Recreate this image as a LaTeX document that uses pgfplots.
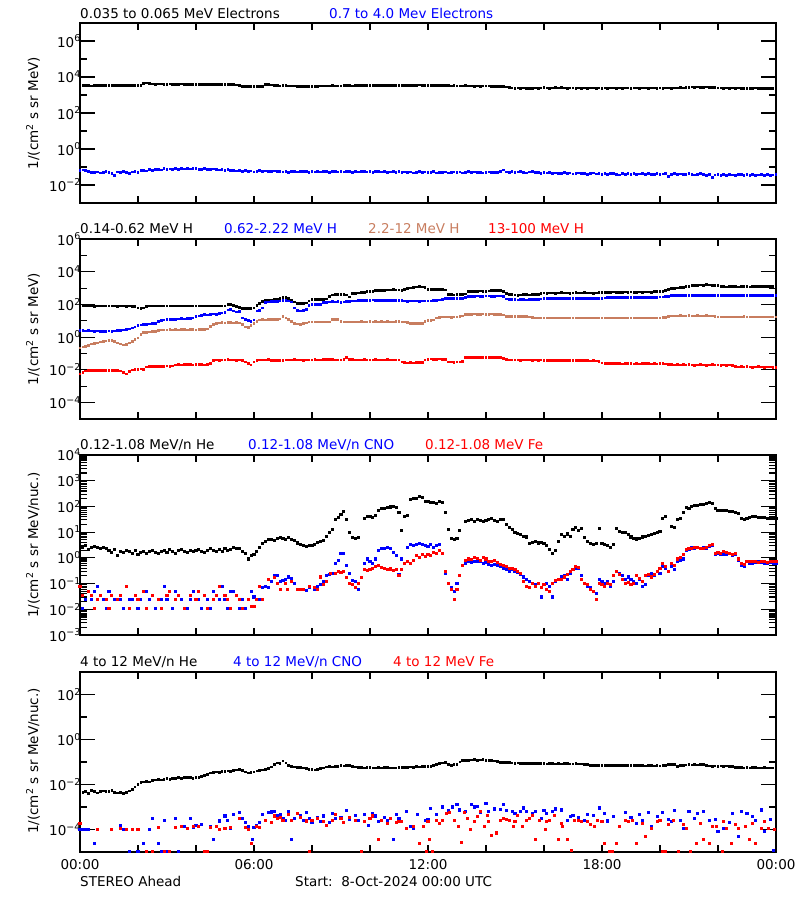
\documentclass[border=0pt]{standalone}
\usepackage{pgfplots}
\pgfplotsset{compat=1.18}
\usepackage{pgfplotstable}
\usepackage{fontspec}
\setmainfont{DejaVu Sans}
\definecolor{ibrown}{RGB}{200,125,95}
\newcommand\E[1]{10\textsuperscript{#1}}

\pgfplotstableread{
t a b
0.0 3300 0.065
0.1 3250 0.068
0.2 3350 0.062
0.3 3300 0.058
0.4 3200 0.050
0.5 3300 0.048
0.6 3350 0.052
0.7 3300 0.046
0.8 3250 0.050
0.9 3300 0.055
1.0 3400 0.048
1.1 3300 0.044
1.2 3250 0.034
1.3 3300 0.052
1.4 3350 0.048
1.5 3400 0.055
1.6 3300 0.050
1.7 3350 0.045
1.8 3300 0.052
1.9 3400 0.058
2.0 3350 0.050
2.1 3500 0.062
2.2 4500 0.066
2.3 4700 0.060
2.4 4400 0.070
2.5 4100 0.065
2.6 4000 0.072
2.7 4100 0.075
2.8 4050 0.068
2.9 3950 0.080
3.0 4000 0.074
3.1 4100 0.078
3.2 4000 0.072
3.3 3950 0.082
3.4 4000 0.076
3.5 4050 0.080
3.6 3950 0.078
3.7 3900 0.085
3.8 4000 0.078
3.9 3950 0.082
4.0 3900 0.080
4.1 3850 0.076
4.2 3900 0.072
4.3 3950 0.080
4.4 3900 0.075
4.5 3850 0.070
4.6 3800 0.078
4.7 3850 0.074
4.8 3900 0.068
4.9 3800 0.072
5.0 3750 0.065
5.1 3800 0.070
5.2 3850 0.062
5.3 3700 0.066
5.4 3650 0.060
5.5 3500 0.064
5.6 3000 0.058
5.7 2900 0.062
5.8 2950 0.055
5.9 2900 0.060
6.0 2850 0.052
6.1 2900 0.058
6.2 3000 0.062
6.3 3100 0.056
6.4 3700 0.060
6.5 3800 0.058
6.6 3600 0.054
6.7 3300 0.060
6.8 3250 0.055
6.9 3200 0.058
7.0 3250 0.052
7.1 3300 0.056
7.2 3200 0.050
7.3 3150 0.055
7.4 3200 0.058
7.5 3100 0.052
7.6 3050 0.056
7.7 3000 0.054
7.8 3050 0.058
7.9 3000 0.050
8.0 3100 0.055
8.1 3050 0.052
8.2 3100 0.056
8.3 3150 0.053
8.4 3200 0.058
8.5 3150 0.055
8.6 3200 0.050
8.7 3250 0.054
8.8 3200 0.057
8.9 3150 0.052
9.0 3200 0.056
9.1 3250 0.053
9.2 3300 0.058
9.3 3250 0.054
9.4 3200 0.050
9.5 3250 0.056
9.6 3300 0.052
9.7 3250 0.055
9.8 3300 0.058
9.9 3250 0.052
10.0 3300 0.055
10.1 3350 0.050
10.2 3300 0.054
10.3 3250 0.057
10.4 3300 0.052
10.5 3350 0.055
10.6 3300 0.050
10.7 3350 0.053
10.8 3300 0.056
10.9 3350 0.051
11.0 3300 0.054
11.1 3400 0.050
11.2 3450 0.053
11.3 3500 0.048
11.4 3400 0.052
11.5 3450 0.047
11.6 3500 0.051
11.7 3550 0.055
11.8 3500 0.049
11.9 3450 0.052
12.0 3500 0.048
12.1 3450 0.050
12.2 3500 0.054
12.3 3400 0.047
12.4 3350 0.050
12.5 3300 0.048
12.6 3250 0.052
12.7 3300 0.046
12.8 3200 0.050
12.9 3250 0.053
13.0 3200 0.049
13.1 3150 0.052
13.2 3200 0.047
13.3 3250 0.050
13.4 3200 0.055
13.5 3150 0.049
13.6 3100 0.052
13.7 3150 0.048
13.8 3100 0.051
13.9 3150 0.046
14.0 3200 0.050
14.1 3150 0.053
14.2 3100 0.048
14.3 3050 0.051
14.4 3100 0.049
14.5 3050 0.055
14.6 3000 0.068
14.7 2800 0.052
14.8 2500 0.049
14.9 2450 0.055
15.0 2400 0.050
15.1 2450 0.053
15.2 2400 0.058
15.3 2450 0.050
15.4 2400 0.047
15.5 2350 0.052
15.6 2400 0.055
15.7 2450 0.048
15.8 2400 0.051
15.9 2450 0.045
16.0 2500 0.049
16.1 2450 0.046
16.2 2400 0.050
16.3 2450 0.044
16.4 2500 0.047
16.5 2450 0.042
16.6 2500 0.045
16.7 2450 0.048
16.8 2400 0.043
16.9 2450 0.046
17.0 2450 0.041
17.1 2400 0.044
17.2 2450 0.047
17.3 2400 0.042
17.4 2450 0.045
17.5 2400 0.040
17.6 2450 0.043
17.7 2450 0.046
17.8 2400 0.041
17.9 2450 0.044
18.0 2400 0.040
18.1 2450 0.043
18.2 2400 0.038
18.3 2450 0.042
18.4 2450 0.045
18.5 2400 0.040
18.6 2450 0.036
18.7 2400 0.042
18.8 2450 0.039
18.9 2450 0.043
19.0 2400 0.040
19.1 2450 0.044
19.2 2450 0.038
19.3 2400 0.041
19.4 2450 0.045
19.5 2450 0.039
19.6 2400 0.042
19.7 2450 0.037
19.8 2450 0.040
19.9 2400 0.043
20.0 2450 0.038
20.1 2400 0.041
20.2 2450 0.044
20.3 2450 0.030
20.4 2400 0.039
20.5 2450 0.042
20.6 2450 0.038
20.7 2500 0.041
20.8 2450 0.037
20.9 2550 0.040
21.0 2700 0.043
21.1 2750 0.039
21.2 2700 0.036
21.3 2750 0.040
21.4 2700 0.042
21.5 2700 0.038
21.6 2750 0.035
21.7 2700 0.039
21.8 2650 0.027
21.9 2500 0.036
22.0 2450 0.040
22.1 2450 0.034
22.2 2400 0.038
22.3 2450 0.035
22.4 2400 0.039
22.5 2450 0.036
22.6 2400 0.033
22.7 2450 0.037
22.8 2400 0.040
22.9 2350 0.035
23.0 2300 0.038
23.1 2350 0.034
23.2 2400 0.037
23.3 2450 0.033
23.4 2400 0.036
23.5 2350 0.039
23.6 2400 0.034
23.7 2350 0.037
23.8 2300 0.033
23.9 2300 0.036
24.0 2250 0.037
}\tone

\pgfplotstableread{
t a b c d
0.0 88 2.6 0.22 0.0057
0.1 85 2.5 0.25 0.0070
0.2 80 2.4 0.28 0.0085
0.3 82 2.5 0.32 0.0092
0.4 80 2.4 0.38 0.0090
0.5 78 2.3 0.42 0.0095
0.6 80 2.4 0.45 0.0088
0.7 82 2.3 0.50 0.0093
0.8 79 2.2 0.55 0.0090
0.9 80 2.3 0.58 0.0095
1.0 81 2.4 0.60 0.0092
1.1 80 2.3 0.60 0.0088
1.2 79 2.4 0.55 0.0093
1.3 78 2.5 0.45 0.0090
1.4 80 2.6 0.38 0.0085
1.5 79 2.7 0.33 0.0070
1.6 78 2.9 0.35 0.0057
1.7 80 3.2 0.45 0.0080
1.8 77 3.6 0.55 0.0100
1.9 75 4.2 0.70 0.0110
2.0 62 5.0 0.90 0.0110
2.1 57 5.5 1.4 0.0115
2.2 60 6.0 1.9 0.0110
2.3 78 6.2 2.0 0.0150
2.4 80 6.5 2.1 0.0160
2.5 79 6.8 2.3 0.0155
2.6 81 7.2 2.3 0.0160
2.7 80 9.0 2.5 0.0165
2.8 79 10 2.7 0.0160
2.9 80 11 2.8 0.0165
3.0 82 11.5 2.8 0.0170
3.1 80 12 2.9 0.0165
3.2 79 11.8 2.8 0.0170
3.3 80 12.5 2.9 0.020
3.4 81 13 2.8 0.021
3.5 80 13.5 2.9 0.020
3.6 79 13 2.9 0.021
3.7 80 14 2.8 0.022
3.8 81 14.5 2.9 0.021
3.9 80 15 2.9 0.020
4.0 79 18 2.8 0.021
4.1 80 20 2.9 0.022
4.2 81 22 2.9 0.021
4.3 80 24 2.9 0.020
4.4 79 23 3.2 0.022
4.5 80 25 4.5 0.024
4.6 81 26 6.0 0.038
4.7 80 24 7.0 0.040
4.8 79 28 7.5 0.039
4.9 80 30 7.6 0.041
5.0 82 32 7.4 0.040
5.1 95 45 7.6 0.042
5.2 100 50 7.8 0.040
5.3 90 40 7.5 0.041
5.4 75 35 7.6 0.039
5.5 65 38 7.4 0.040
5.6 57 15 6.0 0.038
5.7 55 12 4.2 0.030
5.8 58 10 4.0 0.025
5.9 56 9.5 5.0 0.020
6.0 60 11 7.0 0.030
6.1 90 40 9.0 0.036
6.2 120 42 11 0.040
6.3 150 60 11.5 0.041
6.4 170 130 11 0.040
6.5 175 140 11.5 0.042
6.6 180 150 12 0.038
6.7 200 150 11.5 0.036
6.8 220 155 12 0.037
6.9 240 160 13 0.036
7.0 260 170 19 0.038
7.1 260 175 15 0.040
7.2 240 165 12 0.041
7.3 180 140 9.0 0.040
7.4 140 60 7.0 0.042
7.5 120 42 6.5 0.041
7.6 115 40 6.2 0.040
7.7 118 42 6.8 0.039
7.8 125 50 7.5 0.040
7.9 160 90 8.5 0.041
8.0 200 95 8.5 0.040
8.1 205 100 8.3 0.042
8.2 200 95 8.6 0.041
8.3 210 100 8.5 0.040
8.4 200 130 8.4 0.043
8.5 220 135 8.6 0.045
8.6 300 140 8.5 0.045
8.7 380 145 12 0.042
8.8 420 140 12.5 0.041
8.9 410 145 12 0.040
9.0 400 130 9.0 0.041
9.1 390 140 8.5 0.042
9.2 380 150 8.6 0.060
9.3 280 150 8.5 0.045
9.4 450 160 8.4 0.042
9.5 480 165 8.6 0.041
9.6 500 170 8.5 0.040
9.7 530 175 8.7 0.041
9.8 560 180 8.6 0.042
9.9 600 175 8.5 0.041
10.0 620 180 8.8 0.040
10.1 650 185 8.6 0.041
10.2 680 180 8.7 0.042
10.3 700 178 8.5 0.041
10.4 720 180 8.8 0.040
10.5 740 182 8.6 0.041
10.6 760 180 8.7 0.042
10.7 780 178 8.5 0.040
10.8 790 180 8.6 0.041
10.9 780 175 8.8 0.040
11.0 760 170 8.7 0.040
11.1 740 168 8.6 0.030
11.2 800 160 8.5 0.028
11.3 900 158 8.0 0.027
11.4 1000 160 7.2 0.028
11.5 1100 162 7.0 0.027
11.6 1150 160 7.1 0.028
11.7 1200 158 6.9 0.029
11.8 1180 160 7.2 0.028
11.9 1100 162 9.5 0.040
12.0 850 160 10 0.045
12.1 820 165 10 0.046
12.2 800 170 11 0.045
12.3 810 180 15 0.044
12.4 790 190 16 0.046
12.5 800 210 17 0.045
12.6 760 230 17 0.044
12.7 420 235 17 0.031
12.8 390 240 16.5 0.030
12.9 380 238 17 0.029
13.0 400 235 17 0.031
13.1 420 240 17.5 0.030
13.2 410 242 20 0.032
13.3 430 260 24 0.055
13.4 600 300 25 0.058
13.5 620 310 25 0.060
13.6 650 320 26 0.058
13.7 640 330 25 0.057
13.8 660 320 25 0.059
13.9 620 315 26 0.060
14.0 650 325 25 0.058
14.1 670 330 25 0.057
14.2 680 320 26 0.059
14.3 700 318 25 0.058
14.4 690 325 25 0.057
14.5 720 330 24 0.056
14.6 650 320 23 0.052
14.7 450 220 19 0.042
14.8 420 210 18 0.041
14.9 400 200 18 0.040
15.0 380 195 18 0.041
15.1 370 190 18 0.040
15.2 380 195 17.5 0.039
15.3 400 200 18 0.040
15.4 390 190 17.5 0.041
15.5 380 195 17 0.040
15.6 400 200 16 0.039
15.7 420 210 15 0.040
15.8 410 205 15 0.039
15.9 480 220 15 0.040
16.0 500 225 15 0.039
16.1 490 230 14.8 0.038
16.2 510 235 15 0.039
16.3 500 230 15 0.038
16.4 480 225 14.8 0.039
16.5 500 230 15 0.038
16.6 520 235 15 0.037
16.7 510 230 14.8 0.038
16.8 500 232 15 0.037
16.9 490 228 15 0.038
17.0 500 230 14.8 0.037
17.1 520 235 15 0.036
17.2 510 230 15 0.037
17.3 500 228 14.8 0.036
17.4 530 232 15 0.037
17.5 510 230 15 0.036
17.6 500 228 14.8 0.035
17.7 490 225 15 0.036
17.8 510 230 15 0.035
17.9 520 232 15 0.034
18.0 540 240 14.8 0.026
18.1 550 250 15 0.025
18.2 560 255 15 0.024
18.3 550 260 14.8 0.025
18.4 570 258 15 0.024
18.5 560 255 15 0.025
18.6 550 260 14.8 0.024
18.7 560 262 15 0.023
18.8 580 258 15 0.024
18.9 560 260 14.8 0.025
19.0 570 255 15 0.024
19.1 560 258 15 0.023
19.2 550 260 14.8 0.024
19.3 570 262 15 0.023
19.4 560 258 15 0.024
19.5 580 255 14.8 0.025
19.6 570 260 15 0.024
19.7 560 262 15 0.023
19.8 590 265 15 0.024
19.9 600 270 15 0.023
20.0 620 280 15 0.024
20.1 650 290 15.5 0.024
20.2 700 300 16 0.023
20.3 800 320 18 0.022
20.4 900 340 20 0.021
20.5 950 350 20 0.020
20.6 1000 355 20 0.021
20.7 1050 350 21 0.020
20.8 1100 360 20 0.021
20.9 1200 355 20 0.020
21.0 1300 350 21 0.021
21.1 1400 360 20 0.020
21.2 1450 355 20 0.019
21.3 1500 350 21 0.020
21.4 1550 345 20 0.021
21.5 1500 350 20 0.020
21.6 1600 355 21 0.019
21.7 1550 350 20 0.020
21.8 1500 340 20 0.021
21.9 1450 345 19 0.020
22.0 1400 350 17 0.020
22.1 1250 345 17 0.019
22.2 1200 340 17 0.020
22.3 1150 345 17 0.019
22.4 1200 350 17 0.020
22.5 1250 355 17 0.019
22.6 1200 350 17 0.016
22.7 1180 345 17 0.015
22.8 1200 350 17 0.016
22.9 1250 355 18 0.015
23.0 1200 350 17 0.016
23.1 1150 345 17 0.015
23.2 1200 350 17 0.014
23.3 1250 355 17 0.015
23.4 1300 350 17 0.016
23.5 1250 345 17 0.015
23.6 1200 350 17 0.014
23.7 1230 348 17 0.015
23.8 1250 350 17 0.015
23.9 1220 352 17 0.014
24.0 1200 350 17 0.014
}\ttwo

\pgfplotstableread{
t a
0.0 nan
0.1 2.6
0.2 3.0
0.3 2.2
0.4 2.5
0.5 2.8
0.6 2.6
0.7 2.4
0.8 2.5
0.9 2.3
1.0 2.0
1.1 1.6
1.2 2.2
1.3 1.2
1.4 1.8
1.5 1.6
1.6 2.0
1.7 1.7
1.8 1.5
1.9 1.9
2.0 1.4
2.1 1.6
2.2 1.8
2.3 1.5
2.4 1.7
2.5 2.0
2.6 1.6
2.7 1.5
2.8 1.8
2.9 1.9
3.0 1.6
3.1 2.1
3.2 1.7
3.3 1.5
3.4 1.9
3.5 2.2
3.6 1.8
3.7 1.6
3.8 2.0
3.9 1.7
4.0 1.9
4.1 2.1
4.2 1.8
4.3 1.6
4.4 2.0
4.5 2.3
4.6 1.9
4.7 1.7
4.8 2.1
4.9 1.8
5.0 2.4
5.1 2.0
5.2 2.2
5.3 2.6
5.4 2.3
5.5 2.4
5.6 1.8
5.7 1.5
5.8 0.9
5.9 1.2
6.0 1.4
6.1 1.8
6.2 2.6
6.3 3.5
6.4 4.5
6.5 5.0
6.6 5.2
6.7 4.8
6.8 5.5
6.9 6.0
7.0 5.8
7.1 5.0
7.2 6.2
7.3 5.2
7.4 4.7
7.5 3.8
7.6 3.2
7.7 3.0
7.8 2.8
7.9 3.1
8.0 3.0
8.1 3.3
8.2 4.0
8.3 4.5
8.4 4.6
8.5 7.0
8.6 10
8.7 13
8.8 30
8.9 38
9.0 50
9.1 65
9.2 30
9.3 10
9.4 6.0
9.5 5.5
9.6 6.2
9.7 nan
9.8 35
9.9 40
10.0 42
10.1 38
10.2 45
10.3 70
10.4 80
10.5 85
10.6 90
10.7 95
10.8 100
10.9 90
11.0 60
11.1 12
11.2 40
11.3 45
11.4 190
11.5 200
11.6 210
11.7 240
11.8 220
11.9 160
12.0 150
12.1 145
12.2 140
12.3 130
12.4 150
12.5 140
12.6 60
12.7 13
12.8 5.5
12.9 5.0
13.0 5.5
13.1 12
13.2 nan
13.3 26
13.4 28
13.5 30
13.6 27
13.7 31
13.8 29
13.9 25
14.0 28
14.1 30
14.2 33
14.3 28
14.4 26
14.5 30
14.6 31
14.7 20
14.8 15
14.9 13
15.0 10
15.1 9.0
15.2 8.0
15.3 7.0
15.4 6.5
15.5 3.5
15.6 4.0
15.7 4.2
15.8 3.8
15.9 4.0
16.0 3.5
16.1 3.0
16.2 2.2
16.3 1.5
16.4 2.0
16.5 4.5
16.6 8.0
16.7 7.0
16.8 8.5
16.9 7.0
17.0 13
17.1 15
17.2 12
17.3 14
17.4 6.0
17.5 4.5
17.6 3.5
17.7 3.2
17.8 3.6
17.9 14
18.0 3.5
18.1 3.2
18.2 3.0
18.3 2.6
18.4 3.4
18.5 14
18.6 11
18.7 10
18.8 9.5
18.9 8.0
19.0 6.5
19.1 5.5
19.2 5.4
19.3 5.8
19.4 6.5
19.5 7.0
19.6 7.5
19.7 8.0
19.8 9.0
19.9 10
20.0 11
20.1 35
20.2 42
20.3 nan
20.4 17
20.5 15
20.6 30
20.7 35
20.8 60
20.9 90
21.0 85
21.1 100
21.2 110
21.3 105
21.4 115
21.5 120
21.6 125
21.7 140
21.8 135
21.9 80
22.0 72
22.1 70
22.2 68
22.3 72
22.4 65
22.5 66
22.6 60
22.7 55
22.8 34
22.9 30
23.0 33
23.1 38
23.2 42
23.3 40
23.4 36
23.5 38
23.6 37
23.7 35
23.8 38
23.9 36
24.0 34
}\tthree

\pgfplotstableread{
t a
0.0 0.0035
0.1 0.0045
0.2 0.0050
0.3 0.0040
0.4 0.0055
0.5 0.0048
0.6 0.0042
0.7 0.0050
0.8 0.0052
0.9 0.0048
1.0 0.0050
1.1 0.0053
1.2 0.0045
1.3 0.0042
1.4 0.0043
1.5 0.0041
1.6 0.0045
1.7 0.0052
1.8 0.0062
1.9 0.0078
2.0 0.0100
2.1 0.0120
2.2 0.0130
2.3 0.0140
2.4 0.0130
2.5 0.0150
2.6 0.0160
2.7 0.0170
2.8 0.0160
2.9 0.0170
3.0 0.0180
3.1 0.0170
3.2 0.0180
3.3 0.0190
3.4 0.0200
3.5 0.0190
3.6 0.0200
3.7 0.0210
3.8 0.0200
3.9 0.0190
4.0 0.0210
4.1 0.0200
4.2 0.0220
4.3 0.0250
4.4 0.0280
4.5 0.0320
4.6 0.0350
4.7 0.0360
4.8 0.0350
4.9 0.0370
5.0 0.0380
5.1 0.0400
5.2 0.0390
5.3 0.0420
5.4 0.0440
5.5 0.0460
5.6 0.0420
5.7 0.0360
5.8 0.0320
5.9 0.0340
6.0 0.0360
6.1 0.0400
6.2 0.0420
6.3 0.0440
6.4 0.0460
6.5 0.0500
6.6 0.0600
6.7 0.0750
6.8 0.0900
6.9 0.0850
7.0 0.1100
7.1 0.0900
7.2 0.0700
7.3 0.0650
7.4 0.0600
7.5 0.0580
7.6 0.0560
7.7 0.0550
7.8 0.0520
7.9 0.0480
8.0 0.0450
8.1 0.0440
8.2 0.0450
8.3 0.0500
8.4 0.0550
8.5 0.0600
8.6 0.0620
8.7 0.0600
8.8 0.0630
8.9 0.0650
9.0 0.0680
9.1 0.0660
9.2 0.0700
9.3 0.0720
9.4 0.0650
9.5 0.0600
9.6 0.0580
9.7 0.0560
9.8 0.0550
9.9 0.0570
10.0 0.0560
10.1 0.0550
10.2 0.0540
10.3 0.0560
10.4 0.0550
10.5 0.0570
10.6 0.0560
10.7 0.0550
10.8 0.0540
10.9 0.0550
11.0 0.0560
11.1 0.0580
11.2 0.0570
11.3 0.0590
11.4 0.0600
11.5 0.0580
11.6 0.0610
11.7 0.0600
11.8 0.0620
11.9 0.0630
12.0 0.0650
12.1 0.0640
12.2 0.0680
12.3 0.0780
12.4 0.0850
12.5 0.0900
12.6 0.0950
12.7 0.0780
12.8 0.0720
12.9 0.0750
13.0 0.0800
13.1 0.1000
13.2 0.1150
13.3 0.1200
13.4 0.1180
13.5 0.1220
13.6 0.1250
13.7 0.1200
13.8 0.1230
13.9 0.1250
14.0 0.1200
14.1 0.1180
14.2 0.1150
14.3 0.1120
14.4 0.1080
14.5 0.0980
14.6 0.0950
14.7 0.0920
14.8 0.0950
14.9 0.0900
15.0 0.0880
15.1 0.0900
15.2 0.0870
15.3 0.0890
15.4 0.0860
15.5 0.0880
15.6 0.0850
15.7 0.0860
15.8 0.0840
15.9 0.0830
16.0 0.0850
16.1 0.0820
16.2 0.0840
16.3 0.0830
16.4 0.0810
16.5 0.0830
16.6 0.0820
16.7 0.0840
16.8 0.0830
16.9 0.0810
17.0 0.0820
17.1 0.0830
17.2 0.0810
17.3 0.0820
17.4 0.0800
17.5 0.0790
17.6 0.0720
17.7 0.0710
17.8 0.0700
17.9 0.0720
18.0 0.0700
18.1 0.0690
18.2 0.0710
18.3 0.0700
18.4 0.0680
18.5 0.0700
18.6 0.0690
18.7 0.0710
18.8 0.0700
18.9 0.0680
19.0 0.0700
19.1 0.0690
19.2 0.0700
19.3 0.0680
19.4 0.0690
19.5 0.0670
19.6 0.0680
19.7 0.0690
19.8 0.0670
19.9 0.0680
20.0 0.0670
20.1 0.0680
20.2 0.0700
20.3 0.0780
20.4 0.0800
20.5 0.0760
20.6 0.0620
20.7 0.0680
20.8 0.0720
20.9 0.0740
21.0 0.0750
21.1 0.0730
21.2 0.0760
21.3 0.0740
21.4 0.0760
21.5 0.0750
21.6 0.0720
21.7 0.0660
21.8 0.0640
21.9 0.0660
22.0 0.0650
22.1 0.0670
22.2 0.0640
22.3 0.0660
22.4 0.0650
22.5 0.0630
22.6 0.0580
22.7 0.0560
22.8 0.0570
22.9 0.0550
23.0 0.0560
23.1 0.0550
23.2 0.0570
23.3 0.0560
23.4 0.0540
23.5 0.0550
23.6 0.0560
23.7 0.0540
23.8 0.0550
23.9 0.0540
24.0 0.0530
}\tfour

\pgfplotsset{
  every axis/.append style={
    width=696bp, height=180bp, scale only axis,
    anchor=north west,
    xmin=0, xmax=24,
    axis line style={line width=1.1bp},
    every tick/.append style={black, line width=1.1bp},
    major tick length=15bp, minor tick length=7bp,
    tick pos=both, tick align=inside,
    xtick={0,6,12,18,24},
    minor xtick={0,2,...,24},
    every major x tick/.append style={draw=none},
    tick label style={font=\fontsize{13.5bp}{16bp}\selectfont},
    yticklabel style={inner sep=0pt, anchor=east, xshift=1bp},
  },
  pm/.style={only marks, mark=square*, mark size=0.85bp, mark options={line width=0pt}},
  ps/.style={only marks, mark=square*, mark size=1.05bp, mark options={line width=0pt}},
}

\begin{document}
\begin{tikzpicture}[font=\fontsize{13.5bp}{16bp}\selectfont]
\useasboundingbox (0,0) rectangle (800bp,-900bp);

% ---------- panel 1 ----------
\begin{axis}[at={(80bp,-23bp)}, ymode=log, ymin=1e-3, ymax=1e7,
  xticklabels={,,,,},
  ytick={1e-2,1,1e2,1e4,1e6}, minor ytick={1e-1,10,1e3,1e5},
  yticklabels={\E{−2},\E{0},\E{2},\E{4},\E{6}}]
\addplot[black, pm] table[x=t, y=a] {\tone};
\addplot[blue, pm] table[x=t, y=b] {\tone};
\end{axis}

% ---------- panel 2 ----------
\begin{axis}[at={(80bp,-239bp)}, ymode=log, ymin=1e-5, ymax=1e6,
  xticklabels={,,,,},
  ytick={1e-4,1e-2,1,1e2,1e4,1e6}, minor ytick={1e-3,1e-1,10,1e3,1e5},
  yticklabels={\E{−4},\E{−2},\E{0},\E{2},\E{4},\E{6}}]
\addplot[black, pm] table[x=t, y=a] {\ttwo};
\addplot[blue, pm] table[x=t, y=b] {\ttwo};
\addplot[ibrown, pm] table[x=t, y=c] {\ttwo};
\addplot[red, pm] table[x=t, y=d] {\ttwo};
\end{axis}

% ---------- panel 3 ----------
\begin{axis}[at={(80bp,-455bp)}, ymode=log, ymin=1e-3, ymax=1e4,
  xticklabels={,,,,},
  ytick={1e-3,1e-2,1e-1,1,10,1e2,1e3,1e4},
  yticklabels={\E{−3},\E{−2},\E{−1},\E{0},\E{1},\E{2},\E{3},\E{4}}]
\addplot[black, ps] table[x=t, y=a] {\tthree};
\addplot[blue, ps] coordinates {
(0.1,0.011)(0.2,0.024)(0.4,0.024)(0.5,0.05)(0.6,0.08)(0.8,0.024)(0.9,0.011)(1.0,0.05)(1.2,0.024)(1.4,0.024)
(1.5,0.011)(1.7,0.024)(1.8,0.024)(2.0,0.011)(2.1,0.024)(2.3,0.05)(2.4,0.024)(2.6,0.011)(2.8,0.024)(2.9,0.08)
(3.0,0.024)(3.2,0.011)(3.3,0.05)(3.5,0.024)(3.7,0.011)(3.8,0.024)(3.9,0.05)(4.1,0.024)(4.2,0.011)(4.4,0.024)
(4.5,0.011)(4.6,0.05)(4.8,0.024)(4.9,0.08)(5.0,0.024)(5.1,0.011)(5.2,0.05)(5.3,0.05)(5.5,0.011)(5.6,0.024)
(5.7,0.011)(5.9,0.05)
(6.0,0.03)(6.1,0.025)(6.2,0.025)(6.3,0.07)(6.4,0.08)(6.5,0.07)(6.6,0.12)(6.7,0.2)(6.8,0.21)(6.9,0.12)
(7.0,0.13)(7.1,0.15)(7.2,0.18)(7.3,0.16)(7.4,0.1)(7.5,0.06)(7.6,0.06)(7.7,0.06)(7.8,0.055)(7.9,0.07)
(8.1,0.06)(8.2,0.08)(8.3,0.09)(8.4,0.12)(8.5,0.2)(8.6,0.22)(8.7,0.25)(8.8,0.6)(8.9,0.8)(9.0,1.5)
(9.1,1.5)(9.2,0.5)(9.3,0.25)(9.4,0.13)(9.5,0.12)(9.6,0.06)(9.8,0.6)(9.9,0.9)(10.0,0.7)(10.1,0.6)
(10.2,0.9)(10.3,2.0)(10.4,2.4)(10.5,2.4)(10.6,2.5)(10.7,2.4)(10.8,1.6)(10.9,1.2)(11.0,0.23)(11.1,0.9)
(11.3,2.5)(11.4,3.2)(11.5,3.0)(11.6,3.2)(11.7,3.6)(11.8,3.4)(11.9,3.0)(12.0,2.8)(12.1,3.2)(12.2,2.6)
(12.3,3.0)(12.4,3.3)(12.5,1.5)(12.6,0.25)(12.7,0.1)(12.8,0.07)(12.9,0.05)(13.0,0.1)(13.1,0.2)(13.2,0.5)
(13.3,0.6)(13.4,0.7)(13.5,0.65)(13.6,0.7)(13.7,0.75)(13.8,0.7)(13.9,0.6)(14.0,0.65)(14.1,0.55)(14.2,0.5)
(14.3,0.55)(14.4,0.5)(14.5,0.45)(14.6,0.4)(14.7,0.35)(14.8,0.3)(14.9,0.35)(15.0,0.3)(15.1,0.28)(15.2,0.22)
(15.3,0.18)(15.4,0.15)(15.5,0.12)(15.6,0.1)(15.7,0.09)(15.8,0.1)(15.9,0.03)(16.0,0.09)(16.1,0.1)(16.2,0.08)
(16.3,0.03)(16.4,0.12)(16.5,0.15)(16.6,0.18)(16.7,0.2)(16.8,0.15)(16.9,0.25)(17.0,0.35)(17.1,0.4)(17.2,0.38)
(17.3,0.2)(17.4,0.1)(17.5,0.08)(17.6,0.07)(17.7,0.05)(17.8,0.04)(17.9,0.15)(18.0,0.12)(18.1,0.1)(18.2,0.12)
(18.3,0.08)(18.4,0.12)(18.5,0.3)(18.6,0.25)(18.7,0.2)(18.8,0.15)(18.9,0.18)(19.0,0.14)(19.1,0.12)(19.2,0.1)
(19.3,0.14)(19.4,0.08)(19.5,0.09)(19.6,0.2)(19.7,0.25)(19.8,0.2)(19.9,0.3)(20.0,0.25)(20.1,0.45)(20.2,0.4)
(20.3,0.3)(20.4,0.45)(20.5,0.35)(20.6,0.7)(20.7,0.8)(20.8,0.9)(20.9,2.0)(21.0,2.2)(21.1,2.5)(21.2,2.4)
(21.3,2.6)(21.4,2.3)(21.5,2.5)(21.6,2.4)(21.7,2.8)(21.8,3.0)(21.9,1.4)(22.0,1.5)(22.1,1.3)(22.2,1.4)
(22.3,1.3)(22.4,1.5)(22.5,1.2)(22.6,1.3)(22.7,0.8)(22.8,0.5)(22.9,0.45)(23.0,0.7)(23.1,0.6)(23.2,0.6)
(23.3,0.65)(23.4,0.7)(23.5,0.65)(23.6,0.6)(23.7,0.62)(23.8,0.68)(23.9,0.6)(24.0,0.6)
};
\addplot[red, ps] coordinates {
(0.0,0.08)(0.1,0.035)(0.3,0.05)(0.4,0.035)(0.5,0.011)(0.6,0.024)(0.7,0.035)(0.9,0.024)(1.0,0.011)(1.1,0.035)
(1.3,0.024)(1.4,0.035)(1.6,0.08)(1.7,0.011)(1.9,0.035)(2.0,0.024)(2.2,0.05)(2.3,0.011)(2.5,0.035)(2.7,0.024)
(2.8,0.011)(3.0,0.035)(3.1,0.05)(3.3,0.024)(3.4,0.035)(3.6,0.011)(3.8,0.035)(4.0,0.024)(4.1,0.05)(4.3,0.035)
(4.4,0.011)(4.6,0.024)(4.7,0.035)(4.8,0.08)(5.0,0.035)(5.1,0.024)(5.2,0.011)(5.4,0.035)(5.5,0.024)(5.6,0.011)
(5.8,0.024)
(5.9,0.013)(6.0,0.013)(6.1,0.025)(6.2,0.08)(6.3,0.025)(6.5,0.14)(6.7,0.17)(6.8,0.1)(6.9,0.06)(7.1,0.1)
(7.15,0.06)(7.3,0.12)(7.5,0.06)(7.6,0.06)(7.7,0.06)(7.9,0.08)(8.1,0.07)(8.2,0.06)(8.3,0.18)(8.4,0.09)
(8.5,0.12)(8.65,0.25)(8.8,0.25)(8.9,0.3)(9.0,0.28)(9.1,0.3)(9.2,0.17)(9.3,0.1)(9.4,0.09)(9.5,0.07)
(9.6,0.1)(9.7,0.17)(9.8,0.35)(9.9,0.32)(10.0,0.35)(10.1,0.4)(10.2,0.45)(10.3,0.5)(10.4,0.42)(10.5,0.38)
(10.6,0.35)(10.7,0.37)(10.8,0.33)(10.9,0.36)(11.0,0.2)(11.1,0.35)(11.2,0.6)(11.3,0.7)(11.4,0.6)(11.5,0.8)
(11.6,1.2)(11.7,1.0)(11.8,1.3)(11.9,1.1)(12.0,1.4)(12.1,1.2)(12.2,1.6)(12.3,1.5)(12.4,1.9)(12.5,1.5)
(12.6,0.3)(12.7,0.1)(12.8,0.06)(12.9,0.025)(13.0,0.06)(13.1,0.2)(13.2,0.5)(13.3,0.8)(13.4,0.9)(13.5,0.85)
(13.6,1.0)(13.7,0.95)(13.8,0.8)(13.9,1.0)(14.0,0.9)(14.1,0.75)(14.2,0.7)(14.3,0.8)(14.4,0.65)(14.5,0.55)
(14.6,0.5)(14.7,0.45)(14.8,0.4)(14.9,0.38)(15.0,0.35)(15.1,0.3)(15.2,0.25)(15.3,0.12)(15.4,0.08)(15.5,0.07)
(15.6,0.1)(15.7,0.08)(15.8,0.1)(15.9,0.07)(16.0,0.09)(16.1,0.06)(16.2,0.05)(16.3,0.1)(16.4,0.13)(16.5,0.15)
(16.6,0.14)(16.7,0.18)(16.8,0.22)(16.9,0.3)(17.0,0.35)(17.1,0.45)(17.2,0.42)(17.3,0.15)(17.4,0.1)(17.5,0.09)
(17.6,0.06)(17.7,0.05)(17.8,0.025)(17.9,0.1)(18.0,0.09)(18.1,0.08)(18.2,0.1)(18.3,0.09)(18.4,0.2)(18.5,0.3)
(18.6,0.22)(18.7,0.15)(18.8,0.1)(18.9,0.11)(19.0,0.09)(19.1,0.1)(19.2,0.2)(19.3,0.16)(19.4,0.12)(19.5,0.2)
(19.6,0.22)(19.7,0.18)(19.8,0.22)(19.9,0.3)(20.0,0.4)(20.1,0.6)(20.2,0.45)(20.3,0.3)(20.4,0.6)(20.5,0.5)
(20.6,0.9)(20.7,1.0)(20.8,1.3)(20.9,2.2)(21.0,2.4)(21.1,2.3)(21.2,2.6)(21.3,2.5)(21.4,2.4)(21.5,2.3)
(21.6,2.5)(21.7,3.0)(21.8,3.2)(21.9,1.5)(22.0,1.6)(22.1,1.5)(22.2,1.7)(22.3,1.6)(22.4,1.5)(22.5,1.4)
(22.6,1.5)(22.7,0.9)(22.8,0.6)(22.9,0.55)(23.0,0.7)(23.1,0.7)(23.2,0.75)(23.3,0.7)(23.4,0.68)(23.5,0.72)
(23.6,0.7)(23.7,0.65)(23.8,0.72)(23.9,0.7)(24.0,0.7)
};
\end{axis}

% ---------- panel 4 ----------
\begin{axis}[at={(80bp,-672bp)}, ymode=log, ymin=1e-5, ymax=1e3,
  ytick={1e-4,1e-2,1,1e2}, minor ytick={1e-3,1e-1,10},
  yticklabels={\E{−4},\E{−2},\E{0},\E{2}},
  xticklabels={00:00,06:00,12:00,18:00,00:00},
  xticklabel style={yshift=-4bp}]
\addplot[black, pm] table[x=t, y=a] {\tfour};
\addplot[blue, ps] coordinates {
(0.0,1e-4)(0.1,1e-4)(0.2,1e-4)(0.3,1e-4)(0.5,2.4e-5)(1.1,1e-4)(1.4,1.5e-4)(1.5,1e-4)(1.7,1.1e-5)(1.8,1e-4)
(2.0,1.1e-5)(2.2,2.4e-5)(2.4,1e-4)(2.5,3e-4)(2.7,2.4e-5)(2.8,1.1e-5)(2.9,2.6e-4)(3.0,1.1e-5)(3.1,1.1e-5)(3.3,3.2e-4)
(3.4,1.1e-5)(3.6,1.3e-4)(3.8,3e-4)(3.9,1.2e-4)(4.0,1.5e-4)(4.2,1.6e-4)(4.3,1.1e-5)(4.5,1.3e-4)(4.6,3.5e-5)(4.7,1.3e-4)
(4.8,2.4e-4)(5.0,4e-4)(5.1,2.5e-4)(5.2,1.1e-4)(5.3,4.5e-4)(5.5,5.5e-4)(5.6,3e-4)(5.7,2e-4)(5.8,1.3e-4)(5.95,3.5e-5)
(6.0,1.2e-4)(6.1,1.5e-4)(6.2,2e-4)(6.3,4.5e-4)(6.4,2.6e-4)(6.5,5.5e-4)(6.6,6e-4)(6.7,6.5e-4)(6.8,4e-4)(6.9,4.5e-4)
(7.0,3e-4)(7.1,2.5e-4)(7.2,6e-4)(7.3,3.5e-5)(7.4,3e-4)(7.6,4e-4)(7.7,2.5e-4)(7.8,5.5e-4)(7.9,3e-4)(8.0,2e-4)
(8.2,3.5e-4)(8.3,2.2e-4)(8.4,4e-4)(8.6,2e-4)(8.7,5e-4)(8.8,3e-4)(9.0,3.5e-4)(9.2,7e-4)(9.3,2.8e-4)(9.5,4.2e-4)
(9.6,2.5e-4)(9.8,4.5e-4)(9.95,1.5e-4)(10.1,5e-4)(10.2,4e-4)(10.3,2.2e-4)(10.5,3.5e-4)(10.6,2.5e-4)(10.8,3.5e-5)(10.9,4.5e-4)
(11.0,3e-4)(11.25,6.2e-4)(11.4,1.3e-4)(11.5,1.1e-4)(11.65,4.5e-4)(11.9,2.6e-4)(12.0,2.8e-4)(12.1,8.5e-4)(12.3,4.8e-4)(12.5,1e-3)
(12.7,7e-4)(12.85,1e-3)(13.0,1.3e-3)(13.1,7.4e-4)(13.3,6.2e-4)(13.5,1.3e-3)(13.6,1e-3)(13.7,1.1e-3)(13.8,5.8e-4)(14.0,1.4e-3)
(14.1,6.2e-4)(14.3,8.2e-4)(14.5,8e-4)(14.6,1.3e-3)(14.7,6.8e-4)(14.9,6.2e-4)(15.0,5.1e-4)(15.2,6.2e-4)(15.3,9e-4)(15.4,6.6e-4)
(15.6,5.1e-4)(15.7,6.2e-4)(15.9,3.1e-4)(16.0,7e-4)(16.1,5.1e-4)(16.3,6.2e-4)(16.4,8.2e-4)(16.6,7.4e-4)(16.8,2.6e-4)(16.9,3.7e-4)
(17.0,4.3e-4)(17.2,3.4e-4)(17.4,2.6e-4)(17.5,4.8e-4)(17.7,4.3e-4)(17.9,9e-4)(18.1,5.1e-4)(18.2,2.4e-4)(18.4,3.7e-4)(18.6,1.3e-4)
(18.8,5.5e-4)(19.0,3.5e-4)(19.2,1.9e-4)(19.3,4.8e-4)(19.4,2.6e-4)(19.6,5.8e-4)(19.7,1.3e-4)(19.9,3.7e-4)(20.1,5.8e-4)(20.3,2.8e-4)
(20.4,2.2e-4)(20.5,7e-4)(20.7,2.6e-4)(20.8,1.1e-4)(21.0,6.2e-4)(21.2,3.1e-4)(21.3,5.1e-4)(21.5,6.2e-4)(21.7,2.6e-4)(21.9,2.8e-4)
(22.0,8e-5)(22.2,1.1e-4)(22.4,2e-4)(22.5,5.1e-4)(22.7,5e-5)(22.8,6.2e-4)(23.0,5.1e-4)(23.2,3.7e-4)(23.3,2.5e-4)(23.5,7.4e-4)
(23.6,8e-5)(23.8,2.8e-4)(23.9,1.2e-5)
};
\addplot[red, ps] coordinates {
(0.0,1.9e-4)(0.6,1e-4)(1.1,1e-4)(1.4,1.1e-4)(1.6,1e-4)(1.8,1e-4)(2.0,1e-4)(2.3,1.1e-5)(2.5,1.1e-5)(2.7,1.2e-4)
(2.9,1.1e-5)(3.1,1.1e-5)(3.3,1.2e-4)(3.5,1.4e-4)(3.7,1.1e-4)(3.9,1.4e-4)(4.1,1.3e-4)(4.3,1.1e-5)(4.4,1.1e-5)(4.5,1.2e-4)
(4.7,1.4e-4)(4.8,1e-4)(5.0,1.1e-4)(5.2,1.2e-4)(5.5,3e-4)(5.7,1.2e-4)(5.8,1e-4)(5.9,2.4e-5)(6.1,1.4e-4)(6.2,1.2e-4)
(6.4,2.5e-4)(6.6,2e-4)(6.7,4e-4)(6.8,3e-4)(6.9,3.5e-4)(7.0,2.6e-4)(7.2,4.5e-4)(7.3,2.5e-4)(7.5,5e-4)(7.6,3.5e-4)
(7.8,2.4e-4)(7.9,1.1e-5)(8.0,2.6e-4)(8.2,3e-4)(8.4,2.2e-4)(8.5,1.5e-4)(8.7,2.5e-4)(8.8,4.5e-4)(9.0,3e-4)(9.1,2e-4)
(9.3,3.5e-4)(9.5,2.5e-4)(9.7,1.1e-5)(9.8,2.2e-4)(10.0,3e-4)(10.1,4e-4)(10.3,3.5e-5)(10.4,2.5e-4)(10.6,1.8e-4)(10.7,3e-4)
(10.9,2e-4)(11.0,2.2e-4)(11.1,2.2e-4)(11.25,1.1e-4)(11.5,1.3e-4)(11.7,2.4e-5)(11.85,1.3e-4)(11.95,1.1e-5)(12.05,3.7e-5)(12.15,1.1e-5)
(12.3,2.6e-4)(12.5,2.6e-4)(12.65,5.1e-4)(12.75,5.5e-4)(12.9,2.6e-4)(13.05,1.3e-4)(13.15,2.6e-5)(13.25,5.5e-4)(13.45,1e-4)(13.6,2.2e-4)
(13.8,6.2e-4)(13.95,1.3e-4)(14.05,4.3e-4)(14.2,5.6e-5)(14.35,7e-5)(14.5,2.6e-4)(14.7,2.8e-4)(14.8,2.5e-4)(14.95,1.4e-4)(15.1,4.3e-4)
(15.25,1.4e-4)(15.4,2.6e-4)(15.6,4.3e-4)(15.7,3.7e-5)(15.85,2.5e-4)(16.05,1e-4)(16.2,2.6e-4)(16.35,4.3e-4)(16.5,3.7e-5)(16.65,1.3e-4)
(16.8,3.7e-5)(16.95,1.2e-5)(17.05,2.6e-4)(17.3,2.2e-4)(17.5,2.2e-4)(17.75,1.3e-4)(17.85,2.5e-4)(18.1,2.4e-5)(18.25,1.1e-5)(18.35,1.1e-5)
(18.5,2.4e-5)(18.6,1.4e-4)(18.8,2.5e-4)(19.05,2.6e-4)(19.2,2.4e-5)(19.5,5e-5)(19.7,1.1e-4)(20.0,2.6e-4)(20.1,1.1e-5)(20.2,1.1e-5)
(20.45,2.5e-4)(20.65,1.1e-5)(20.9,1.1e-4)(21.05,1.1e-5)(21.25,2.4e-5)(21.5,3.7e-5)(21.7,2.4e-5)(21.95,1.3e-4)(22.15,1.1e-5)(22.3,1.1e-4)
(22.45,2.4e-5)(22.7,1.1e-4)(22.95,1.3e-4)(23.1,3.7e-5)(23.3,2.4e-5)(23.5,1.1e-4)(23.75,1.1e-4)(23.95,1e-4)
(12.0,2.2e-4)(12.4,1.9e-4)(13.35,3.1e-4)(13.7,3.7e-4)(14.1,2.2e-4)(14.6,3.1e-4)(15.0,2.2e-4)(15.5,3.1e-4)(16.1,2.2e-4)(16.6,1.9e-4)
(17.2,2.6e-4)(17.6,1.6e-4)(18.0,2.2e-4)(18.9,2.2e-4)(19.4,1.9e-4)(19.9,2.2e-4)(20.3,1.6e-4)(20.8,1.6e-4)(21.4,1.9e-4)(21.8,1.3e-4)
(22.2,2.2e-4)(22.6,1.6e-4)(23.2,1.9e-4)(23.6,2.2e-4)
};
\end{axis}

% ---------- titles ----------
\node[anchor=base west, inner sep=0pt] at (80bp,-18bp) {0.035 to 0.065 MeV Electrons};
\node[anchor=base west, inner sep=0pt, text=blue] at (329bp,-18bp) {0.7 to 4.0 Mev Electrons};
\node[anchor=base west, inner sep=0pt] at (80bp,-233bp) {0.14-0.62 MeV H};
\node[anchor=base west, inner sep=0pt, text=blue] at (224bp,-233bp) {0.62-2.22 MeV H};
\node[anchor=base west, inner sep=0pt, text=ibrown] at (368bp,-233bp) {2.2-12 MeV H};
\node[anchor=base west, inner sep=0pt, text=red] at (488bp,-233bp) {13-100 MeV H};
\node[anchor=base west, inner sep=0pt] at (80bp,-449bp) {0.12-1.08 MeV/n He};
\node[anchor=base west, inner sep=0pt, text=blue] at (248bp,-449bp) {0.12-1.08 MeV/n CNO};
\node[anchor=base west, inner sep=0pt, text=red] at (425bp,-449bp) {0.12-1.08 MeV Fe};
\node[anchor=base west, inner sep=0pt] at (80bp,-666bp) {4 to 12 MeV/n He};
\node[anchor=base west, inner sep=0pt, text=blue] at (233bp,-666bp) {4 to 12 MeV/n CNO};
\node[anchor=base west, inner sep=0pt, text=red] at (393bp,-666bp) {4 to 12 MeV Fe};

% ---------- y labels ----------
\node[rotate=90] at (33bp,-113bp) {1/(cm\textsuperscript{2} s sr MeV)};
\node[rotate=90] at (33bp,-329bp) {1/(cm\textsuperscript{2} s sr MeV)};
\node[rotate=90] at (33bp,-545bp) {1/(cm\textsuperscript{2} s sr MeV/nuc.)};
\node[rotate=90] at (33bp,-761bp) {1/(cm\textsuperscript{2} s sr MeV/nuc.)};

% ---------- footer ----------
\node[anchor=base west, inner sep=0pt] at (80bp,-886bp) {STEREO Ahead};
\node[anchor=base west, inner sep=0pt] at (295bp,-886bp) {Start:\ \ 8-Oct-2024 00:00 UTC};
\end{tikzpicture}
\end{document}
